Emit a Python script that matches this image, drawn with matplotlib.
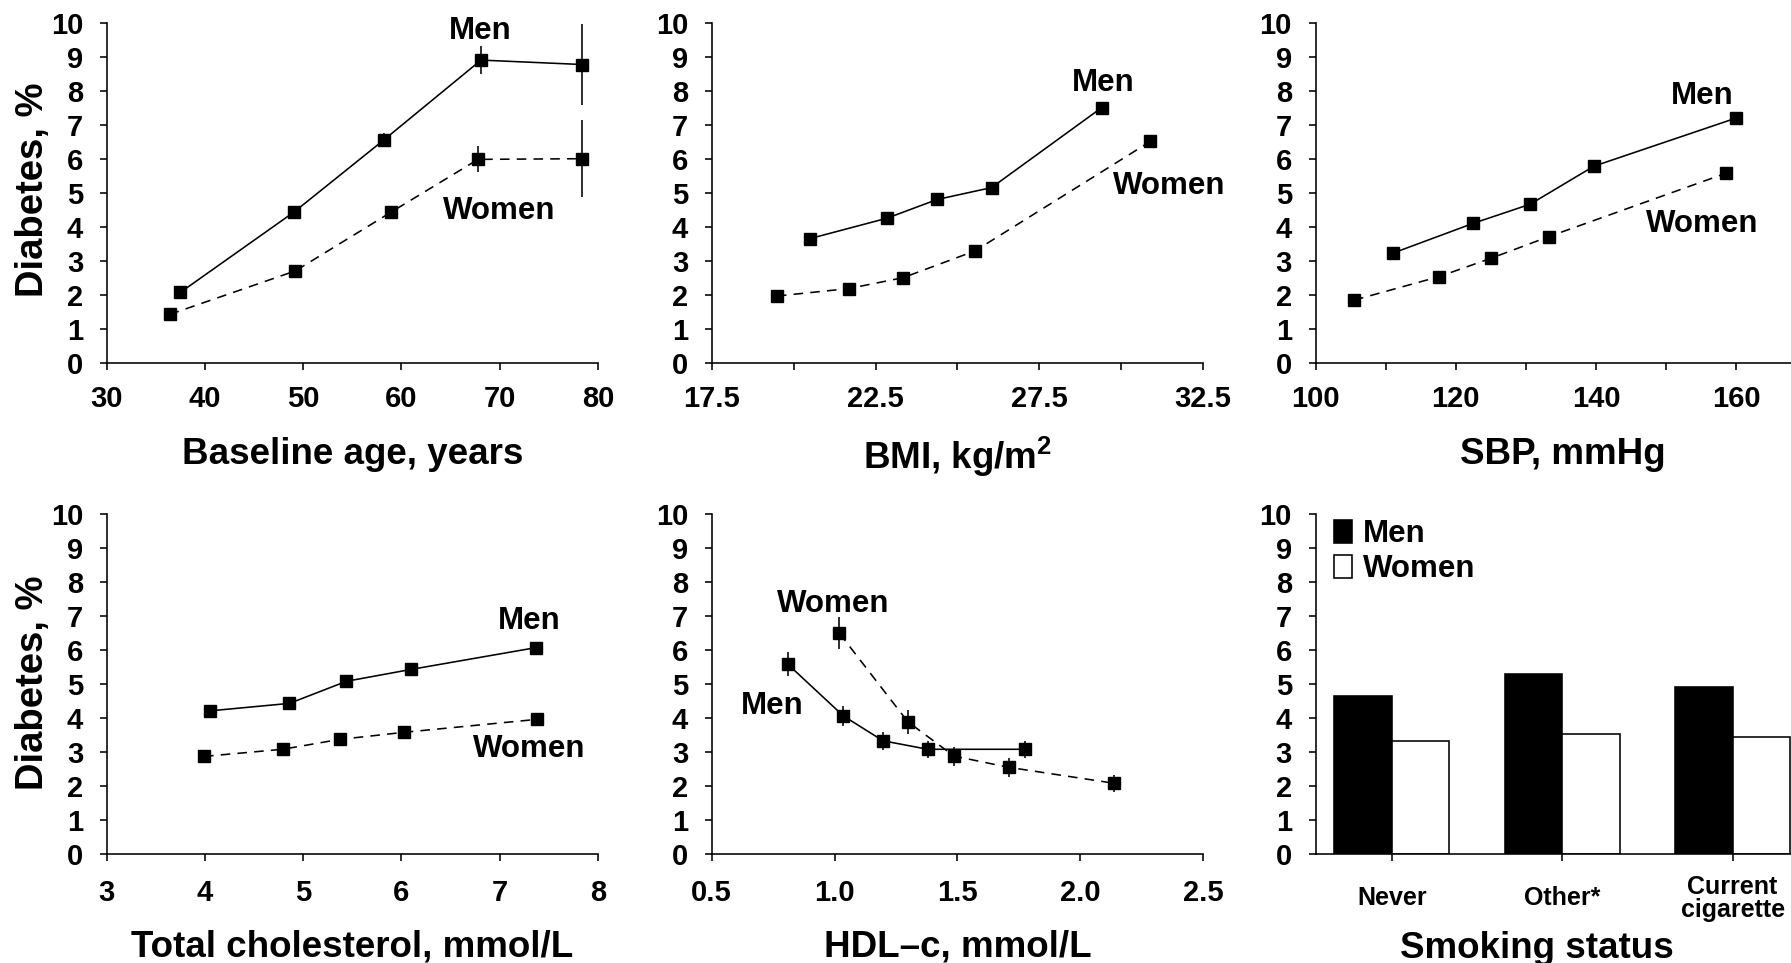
import matplotlib
matplotlib.use('Agg')
import matplotlib.pyplot as plt
from matplotlib.ticker import FixedLocator, FixedFormatter

plt.rcParams['font.family'] = ['Liberation Sans', 'DejaVu Sans']
plt.rcParams['font.weight'] = 'bold'
plt.rcParams['axes.labelweight'] = 'bold'
plt.rcParams['mathtext.fontset'] = 'custom'
plt.rcParams['mathtext.rm'] = 'Liberation Sans'
plt.rcParams['mathtext.default'] = 'rm'

# ---------------- data ----------------
# Panel 1: baseline age
age_men_x = [37.5, 49.1, 58.2, 68.1, 78.4]
age_men_y = [2.07, 4.44, 6.55, 8.90, 8.77]
age_men_err = [0.08, 0.10, 0.20, 0.42, 1.20]
age_women_x = [36.4, 49.2, 58.9, 67.8, 78.4]
age_women_y = [1.42, 2.70, 4.42, 5.98, 6.00]
age_women_err = [0.06, 0.10, 0.15, 0.38, 1.13]

# Panel 2: BMI
bmi_men_x = [20.5, 22.85, 24.38, 26.04, 29.4]
bmi_men_y = [3.65, 4.25, 4.80, 5.15, 7.50]
bmi_men_err = [0.08, 0.08, 0.10, 0.10, 0.12]
bmi_women_x = [19.49, 21.68, 23.34, 25.54, 30.89]
bmi_women_y = [1.96, 2.18, 2.50, 3.29, 6.51]
bmi_women_err = [0.06, 0.06, 0.08, 0.10, 0.15]

# Panel 3: SBP
sbp_men_x = [111.0, 122.5, 130.6, 139.7, 159.9]
sbp_men_y = [3.22, 4.10, 4.66, 5.78, 7.19]
sbp_men_err = [0.10, 0.10, 0.10, 0.12, 0.15]
sbp_women_x = [105.5, 117.6, 125.0, 133.3, 158.5]
sbp_women_y = [1.84, 2.53, 3.07, 3.71, 5.57]
sbp_women_err = [0.06, 0.08, 0.08, 0.10, 0.15]

# Panel 4: total cholesterol
tc_men_x = [4.05, 4.86, 5.44, 6.10, 7.37]
tc_men_y = [4.21, 4.43, 5.08, 5.43, 6.07]
tc_men_err = [0.10, 0.10, 0.15, 0.12, 0.12]
tc_women_x = [3.99, 4.79, 5.37, 6.03, 7.38]
tc_women_y = [2.87, 3.08, 3.37, 3.58, 3.96]
tc_women_err = [0.08, 0.08, 0.10, 0.12, 0.12]

# Panel 5: HDL-c
hdl_men_x = [0.81, 1.036, 1.197, 1.379, 1.776]
hdl_men_y = [5.58, 4.06, 3.33, 3.08, 3.08]
hdl_men_err = [0.35, 0.30, 0.27, 0.25, 0.25]
hdl_women_x = [1.02, 1.298, 1.486, 1.708, 2.138]
hdl_women_y = [6.49, 3.89, 2.88, 2.55, 2.08]
hdl_women_err = [0.47, 0.35, 0.28, 0.28, 0.25]

# Panel 6: smoking status
smoke_categories = ['Never', 'Other*', 'Current\ncigarette']
smoke_men = [4.65, 5.29, 4.92]
smoke_women = [3.33, 3.52, 3.43]

y_ticks = [0, 1, 2, 3, 4, 5, 6, 7, 8, 9, 10]

# ---------------- figure ----------------
W, H = 1791, 963
fig = plt.figure(figsize=(W / 100, H / 100), dpi=100)
fig.patch.set_facecolor('white')


def add_axes_px(l, r, t, b):
    return fig.add_axes([l / W, (H - b) / H, (r - l) / W, (b - t) / H])


LW = 1.15
TICK_FS = 21
LABEL_FS = 26.5
ANN_FS = 22.5


def style_axes(ax):
    for s in ['top', 'right']:
        ax.spines[s].set_visible(False)
    for s in ['left', 'bottom']:
        ax.spines[s].set_linewidth(LW)
        ax.spines[s].set_color('black')
    ax.set_ylim(0, 10)
    ax.set_yticks(y_ticks)
    ax.tick_params(axis='both', which='both', direction='out', length=5,
                   width=LW, colors='black', labelsize=TICK_FS)
    ax.tick_params(axis='y', pad=12)
    ax.tick_params(axis='x', pad=11)
    ax.set_facecolor('none')


def line_panel(ax, mx, my, merr, wx, wy, werr):
    ax.errorbar(mx, my, yerr=merr, fmt='none', ecolor='black',
                elinewidth=LW, capsize=0, zorder=2)
    ax.errorbar(wx, wy, yerr=werr, fmt='none', ecolor='black',
                elinewidth=LW, capsize=0, zorder=2)
    ax.plot(mx, my, color='black', lw=LW, ls='-', marker='s', ms=8,
            mec='black', mfc='black', zorder=3, clip_on=False)
    ax.plot(wx, wy, color='black', lw=LW, ls=(0, (6, 4.5)), marker='s', ms=8,
            mec='black', mfc='black', zorder=3, clip_on=False)


def set_xticks(ax, major, labels, minor=None):
    ax.xaxis.set_major_locator(FixedLocator(major))
    ax.xaxis.set_major_formatter(FixedFormatter(labels))
    if minor is not None:
        ax.xaxis.set_minor_locator(FixedLocator(minor))


row1 = (22.7, 362.7)
row2 = (514.0, 854.0)

# Panel 1
ax1 = add_axes_px(106.8, 597.9, *row1)
style_axes(ax1)
line_panel(ax1, age_men_x, age_men_y, age_men_err,
           age_women_x, age_women_y, age_women_err)
ax1.set_xlim(30, 80)
set_xticks(ax1, [30, 40, 50, 60, 70, 80], ['30', '40', '50', '60', '70', '80'])
ax1.text(68.0, 9.75, 'Men', ha='center', va='center', fontsize=ANN_FS)
ax1.text(70.0, 4.46, 'Women', ha='center', va='center', fontsize=ANN_FS)
ax1.set_xlabel('Baseline age, years', fontsize=LABEL_FS)
ax1.xaxis.set_label_coords(0.5, -0.219)
ax1.set_ylabel('Diabetes, %', fontsize=LABEL_FS + 1)
ax1.yaxis.set_label_coords(-0.114, 0.51)

# Panel 2
ax2 = add_axes_px(711.7, 1203.2, *row1)
style_axes(ax2)
line_panel(ax2, bmi_men_x, bmi_men_y, bmi_men_err,
           bmi_women_x, bmi_women_y, bmi_women_err)
ax2.set_xlim(17.5, 32.5)
set_xticks(ax2, [17.5, 22.5, 27.5, 32.5], ['17.5', '22.5', '27.5', '32.5'],
           minor=[20, 25, 30])
ax2.text(29.45, 8.23, 'Men', ha='center', va='center', fontsize=ANN_FS)
ax2.text(31.47, 5.19, 'Women', ha='center', va='center', fontsize=ANN_FS)
ax2.set_xlabel(r'BMI, kg/m$^{2}$', fontsize=LABEL_FS)
ax2.xaxis.set_label_coords(0.5, -0.212)

# Panel 3
ax3 = add_axes_px(1315.5, 1791, *row1)
style_axes(ax3)
line_panel(ax3, sbp_men_x, sbp_men_y, sbp_men_err,
           sbp_women_x, sbp_women_y, sbp_women_err)
ax3.set_xlim(100, 167.8)
set_xticks(ax3, [100, 120, 140, 160], ['100', '120', '140', '160'],
           minor=[110, 130, 150])
ax3.text(155.1, 7.84, 'Men', ha='center', va='center', fontsize=ANN_FS)
ax3.text(155.1, 4.07, 'Women', ha='center', va='center', fontsize=ANN_FS)
ax3.set_xlabel('SBP, mmHg', fontsize=LABEL_FS)
ax3.xaxis.set_label_coords(0.52, -0.219)

# Panel 4
ax4 = add_axes_px(106.8, 597.9, *row2)
style_axes(ax4)
ax4.tick_params(axis='x', pad=13)
line_panel(ax4, tc_men_x, tc_men_y, tc_men_err,
           tc_women_x, tc_women_y, tc_women_err)
ax4.set_xlim(3, 8)
set_xticks(ax4, [3, 4, 5, 6, 7, 8], ['3', '4', '5', '6', '7', '8'])
ax4.text(7.30, 6.85, 'Men', ha='center', va='center', fontsize=ANN_FS)
ax4.text(7.30, 3.08, 'Women', ha='center', va='center', fontsize=ANN_FS)
ax4.set_xlabel('Total cholesterol, mmol/L', fontsize=LABEL_FS)
ax4.xaxis.set_label_coords(0.5, -0.222)
ax4.set_ylabel('Diabetes, %', fontsize=LABEL_FS + 1)
ax4.yaxis.set_label_coords(-0.114, 0.505)

# Panel 5
ax5 = add_axes_px(711.7, 1203.2, *row2)
style_axes(ax5)
ax5.tick_params(axis='x', pad=13)
line_panel(ax5, hdl_men_x, hdl_men_y, hdl_men_err,
           hdl_women_x, hdl_women_y, hdl_women_err)
ax5.set_xlim(0.5, 2.5)
set_xticks(ax5, [0.5, 1.0, 1.5, 2.0, 2.5], ['0.5', '1.0', '1.5', '2.0', '2.5'])
ax5.text(0.996, 7.34, 'Women', ha='center', va='center', fontsize=ANN_FS)
ax5.text(0.746, 4.35, 'Men', ha='center', va='center', fontsize=ANN_FS)
ax5.set_xlabel('HDL\u2013c, mmol/L', fontsize=LABEL_FS)
ax5.xaxis.set_label_coords(0.5, -0.222)

# Panel 6
ax6 = add_axes_px(1315.5, 1791, *row2)
style_axes(ax6)
bw = 0.338
xs = list(range(len(smoke_categories)))
b_men = ax6.bar([x - bw / 2 for x in xs], smoke_men, width=bw,
                color='black', edgecolor='black', linewidth=LW, label='Men')
b_women = ax6.bar([x + bw / 2 for x in xs], smoke_women, width=bw,
                  color='white', edgecolor='black', linewidth=LW, label='Women')
ax6.set_xlim(-0.448, 2.343)
ax6.set_xticks(xs)
ax6.set_xticklabels(smoke_categories, fontsize=18)
ax6.tick_params(axis='x', pad=27)
for lab in ax6.get_xticklabels():
    lab.set_va('center')
    lab.set_linespacing(0.95)
    lab.set_multialignment('center')
ax6.legend(handles=[b_men, b_women], labels=['Men', 'Women'],
           loc='upper left', bbox_to_anchor=(0.039, 0.985), frameon=False,
           fontsize=ANN_FS, handlelength=0.56, handleheight=0.75,
           handletextpad=0.35, borderpad=0, borderaxespad=0, labelspacing=0.17)
ax6.set_xlabel('Smoking status', fontsize=LABEL_FS)
ax6.xaxis.set_label_coords((1536.9 - 1315.5) / (1791 - 1315.5), -0.226)

fig.savefig('out.png', dpi=100, facecolor='white')
